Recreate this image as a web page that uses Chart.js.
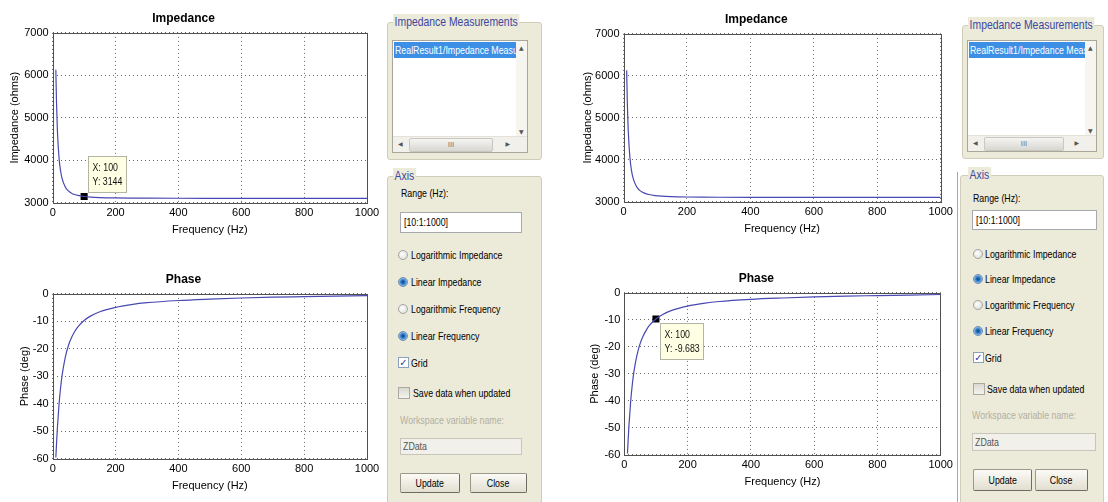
<!DOCTYPE html>
<html>
<head>
<meta charset="utf-8">
<script src="https://cdn.jsdelivr.net/npm/chart.js@4.4.1/dist/chart.umd.min.js"></script>
<style>
  body { margin: 0; width: 1108px; height: 502px; background: #fff; position: relative; overflow: hidden;
         font-family: "Liberation Sans", Arial, sans-serif; font-size: 11px; color: #000; }
  canvas { position: absolute; }
  .abs { position: absolute; box-sizing: border-box; }
  .t { display: inline-block; transform: scaleX(0.8); transform-origin: 0 50%; white-space: nowrap; }
  .grp { background: #ecead9; border: 1px solid #cfccb9; border-radius: 3px; }
  .cap { position: absolute; top: -9px; padding: 0 2px; background: #ecead9; color: #3b47a0; font-size: 13px;
         line-height: 16px; white-space: nowrap; transform: scaleX(0.8); transform-origin: 0 50%; }
  .list { background: #fff; border: 1px solid #a9a79a; overflow: hidden; }
  .sel { position: absolute; left: 1px; top: 1px; height: 16px; line-height: 16px; background: #3d8fe6; color: #fff;
         white-space: nowrap; overflow: hidden; padding-left: 1px; }
  .vs { position: absolute; right: 0; top: 0; width: 11px; bottom: 15px; background: #f6f5f0; }
  .hs { position: absolute; left: 0; right: 0; bottom: 0; height: 15px; background: #f1f0ea; border-top: 1px solid #e4e2d8; }
  .arr { position: absolute; font-size: 6px; color: #555; font-family: "DejaVu Sans", sans-serif; }
  .thumb { position: absolute; top: 1px; height: 12px; border: 1px solid #c9c8c0; border-radius: 2px;
           background: linear-gradient(#f4f4f2, #d8d7d2); font-size: 8px; color: #777; text-align: center; line-height: 11px; }
  .lbl { white-space: nowrap; line-height: 14px; transform: scaleX(0.8); transform-origin: 0 50%; }
  .inp { background: #fff; border: 1px solid #a6aaae; padding-left: 3px; white-space: nowrap; }
  .dis { background: #f1f0ea; border: 1px solid #c8c6ba; padding-left: 2px; color: #555; }
  .radio { width: 10px; height: 10px; border-radius: 50%; border: 1px solid #a4a4a0;
           background: radial-gradient(circle at 40% 40%, #ffffff, #d6d6d2); }
  .radio.on { border-color: #6f8fb0; background: radial-gradient(circle, #0d3f7c 0, #2a78c8 2px, #8fbbe6 4px, #dbe7f2 5px); }
  .chk { width: 11px; height: 11px; border: 1px solid #8aa0bb; background: #fff; font-size: 10px; line-height: 10px;
         color: #2a3aa8; text-align: center; font-family: "DejaVu Sans", sans-serif; font-weight: bold; }
  .chk.off { border-color: #aaa9a0; background: linear-gradient(#d9d8d0, #f4f3ee); }
  .btn { border: 1px solid #9a988a; border-right-color: #6e6c62; border-bottom-color: #6e6c62; border-radius: 2px;
         background: linear-gradient(#fbfaf6, #e2dfd0); text-align: center; }
  .btn .t { transform-origin: 50% 50%; }
  .gray { color: #b3b0a2; }
</style>
</head>
<body>
<canvas id="impLeft" width="420" height="241" style="left:0px;top:0px"></canvas>
<canvas id="phaseLeft" width="420" height="236" style="left:0px;top:261px"></canvas>
<canvas id="impRight" width="420" height="239" style="left:572px;top:1px"></canvas>
<canvas id="phaseRight" width="420" height="233" style="left:572px;top:260px"></canvas>
<div class="abs" style="left:957px;top:172px;width:1px;height:330px;background:#a8a8a8"></div>
<div id="panels"></div>
<script>
// Sweep values
const freqHz = [10, 12, 15, 20, 25, 30, 40, 50, 60, 70, 80, 100, 120, 150, 200, 250, 300, 400, 500, 600, 700, 800, 900, 1000];
const impedanceOhms = [6130, 5390, 4690, 4070, 3750, 3565, 3370, 3275, 3222, 3190, 3169, 3144, 3130, 3119, 3110, 3106, 3104, 3102, 3101, 3100, 3100, 3099, 3099, 3099];
const phaseDeg = [-59.6, -54.9, -48.7, -40.5, -34.3, -29.6, -23.1, -18.8, -15.9, -13.7, -12.0, -9.683, -8.1, -6.5, -4.9, -3.9, -3.2, -2.4, -1.9, -1.5, -1.2, -1.0, -0.8, -0.6];

const freqTicks = [0, 200, 400, 600, 800, 1000];
const impedanceTicks = [3000, 4000, 5000, 6000, 7000];
const phaseTicks = [-60, -50, -40, -30, -20, -10, 0];
const tipFreq = 100; // data cursor sits here

const FONT = '"Liberation Sans", Arial, sans-serif';
Chart.defaults.font.family = FONT;
Chart.defaults.color = "#000";

function makePlot(id, cfg) {
  const tipIdx = freqHz.indexOf(tipFreq);
  const datasets = [{
    data: freqHz.map((f, i) => ({ x: f, y: cfg.values[i] })),
    borderColor: "#4848b2",
    borderWidth: 1.2,
    pointRadius: 0,
    cubicInterpolationMode: "monotone"
  }];
  if (cfg.tip) {
    datasets.push({
      data: [{ x: freqHz[tipIdx], y: cfg.values[tipIdx] }],
      showLine: false,
      pointStyle: "rect",
      pointRadius: 5,
      pointBackgroundColor: "#000",
      pointBorderColor: "#000",
      pointBorderWidth: 0
    });
  }

  // full box round the axes, like matlab
  const frame = {
    id: "frame",
    beforeDatasetsDraw(chart) {
      const { ctx, chartArea: a } = chart;
      ctx.save();
      ctx.setLineDash([]);
      ctx.strokeStyle = "#505050";
      ctx.lineWidth = 1;
      ctx.strokeRect(Math.round(a.left) + 0.5, Math.round(a.top) + 0.5,
                     Math.round(a.right - a.left), Math.round(a.bottom - a.top));
      ctx.restore();
    }
  };

  // the "X: / Y:" data tip box
  const tip = {
    id: "tip",
    afterDraw(chart) {
      if (!cfg.tip) return;
      const p = chart.getDatasetMeta(1).data[0];
      const { ctx } = chart;
      const x = Math.round(p.x + cfg.tip.dx) + 0.5, y = Math.round(p.y + cfg.tip.dy) + 0.5;
      ctx.save();
      ctx.fillStyle = "#ffffe3";
      ctx.strokeStyle = "#b4b4a4";
      ctx.fillRect(x, y, cfg.tip.w, 36);
      ctx.strokeRect(x, y, cfg.tip.w, 36);
      ctx.fillStyle = "#111";
      ctx.font = "11px " + FONT;
      ctx.textBaseline = "middle";
      ctx.translate(x + 4, y);
      ctx.scale(0.8, 1);
      ctx.fillText("X: " + freqHz[tipIdx], 0, 11);
      ctx.fillText("Y: " + cfg.values[tipIdx], 0, 25);
      ctx.restore();
    }
  };

  const gridStyle = { color: "#6a6a6a", lineWidth: 1, drawTicks: false };

  new Chart(document.getElementById(id), {
    type: "line",
    data: { datasets },
    options: {
      responsive: false,
      animation: false,
      events: [],
      layout: { padding: { left: 0, right: cfg.padRight, top: 0, bottom: 0 } },
      plugins: {
        legend: { display: false },
        tooltip: { enabled: false },
        title: {
          display: true,
          text: cfg.title,
          font: { size: 12, weight: "bold" },
          padding: { top: 11, bottom: 7.5 }
        }
      },
      scales: {
        x: {
          type: "linear",
          min: freqTicks[0],
          max: freqTicks[freqTicks.length - 1],
          afterBuildTicks: s => { s.ticks = freqTicks.map(v => ({ value: v })); },
          afterFit: s => { s.height = 38.4; },
          grid: gridStyle,
          border: { display: false, dash: [1, 3] },
          ticks: { font: { size: 11 }, padding: 4, maxRotation: 0, callback: v => String(v) },
          title: { display: true, text: "Frequency (Hz)", font: { size: 11 }, padding: { top: 4, bottom: 4.4 } }
        },
        y: {
          type: "linear",
          min: cfg.ticks[0],
          max: cfg.ticks[cfg.ticks.length - 1],
          afterBuildTicks: s => { s.ticks = cfg.ticks.map(v => ({ value: v })); },
          afterFit: s => { s.width = cfg.axisW; },
          grid: gridStyle,
          border: { display: false, dash: [1, 3] },
          ticks: { font: { size: 11 }, padding: 4, callback: v => String(v) },
          title: { display: true, text: cfg.yTitle, font: { size: 11 }, padding: { top: cfg.yTitleOff - 6.6, bottom: 0 } }
        }
      }
    },
    plugins: [frame, tip]
  });
}

makePlot("impLeft", { title: "Impedance", yTitle: "Impedance (ohms)", values: impedanceOhms, ticks: impedanceTicks,
  axisW: 52.7, padRight: 53, yTitleOff: 15, tip: { dx: 3.5, dy: -40, w: 38 } });
makePlot("phaseLeft", { title: "Phase", yTitle: "Phase (deg)", values: phaseDeg, ticks: phaseTicks,
  axisW: 52.7, padRight: 53, yTitleOff: 25 });
makePlot("impRight", { title: "Impedance", yTitle: "Impedance (ohms)", values: impedanceOhms, ticks: impedanceTicks,
  axisW: 51.5, padRight: 51.3, yTitleOff: 16 });
makePlot("phaseRight", { title: "Phase", yTitle: "Phase (deg)", values: phaseDeg, ticks: phaseTicks,
  axisW: 52.3, padRight: 51.3, yTitleOff: 23, tip: { dx: 4.3, dy: 4, w: 43 } });

// ---- the control panels next to each figure ----
const panelLayouts = [
  { meas: [387, 22, 155, 138], list: [392, 40, 136, 113], axis: [387, 176, 155, 340], capX: 8, axisCapX: 8,
    range: [401, 193], input: [400, 212, 122, 21], radios: [255, 282, 309, 336], radioX: 398, labelX: 411,
    grid: 363, save: 393, ws: 420, zdata: [400, 438, 122, 17], update: [400, 473, 60, 20], close: [470, 473, 57, 20] },
  { meas: [962, 25, 142, 134], list: [967, 40, 130, 112], axis: [960, 175, 144, 340], capX: 8, axisCapX: 10,
    range: [973, 198], input: [972, 210, 125, 20], radios: [254, 279, 305, 331], radioX: 973, labelX: 985,
    grid: 358, save: 389, ws: 415, zdata: [972, 433, 124, 18], update: [973, 469, 59, 22], close: [1035, 469, 53, 22] }
];
const radioLabels = ["Logarithmic Impedance", "Linear Impedance", "Logarithmic Frequency", "Linear Frequency"];
const radioOn = [false, true, false, true];

function at(x, y, w, h) {
  return `left:${x}px;top:${y}px;` + (w != null ? `width:${w}px;height:${h}px;` : "");
}

let html = "";
panelLayouts.forEach(p => {
  const [lx, ly, lw, lh] = p.list;
  html += `<div class="abs grp" style="${at(...p.meas)}"><span class="cap" style="left:${p.capX - 3}px">Impedance Measurements</span></div>`;
  html += `<div class="abs list" style="${at(lx, ly, lw, lh)}">
      <div class="sel" style="width:${lw - 14}px"><span class="t">RealResult1/Impedance Measurements</span></div>
      <div class="vs"><span class="arr" style="left:3px;top:3px">&#9650;</span><span class="arr" style="left:3px;bottom:2px">&#9660;</span></div>
      <div class="hs"><span class="arr" style="left:5px;top:3px">&#9664;</span>
        <div class="thumb" style="left:16px;width:${Math.round(lw * 0.6)}px">III</div>
        <span class="arr" style="right:17px;top:3px">&#9654;</span></div>
    </div>`;
  html += `<div class="abs grp" style="${at(...p.axis)}"><span class="cap" style="left:${p.axisCapX - 3}px">Axis</span></div>`;
  html += `<div class="abs lbl" style="${at(p.range[0], p.range[1] - 7)}">Range (Hz):</div>`;
  const [ix, iy, iw, ih] = p.input;
  html += `<div class="abs inp" style="${at(ix, iy, iw, ih)}line-height:${ih - 2}px"><span class="t">[10:1:1000]</span></div>`;
  p.radios.forEach((y, i) => {
    html += `<div class="abs radio${radioOn[i] ? " on" : ""}" style="${at(p.radioX, y - 5)}"></div>`;
    html += `<div class="abs lbl" style="${at(p.labelX, y - 7)}">${radioLabels[i]}</div>`;
  });
  html += `<div class="abs chk" style="${at(p.radioX, p.grid - 6)}">&#10003;</div>`;
  html += `<div class="abs lbl" style="${at(p.labelX, p.grid - 7)}">Grid</div>`;
  html += `<div class="abs chk off" style="${at(p.radioX, p.save - 6, 12, 12)}"></div>`;
  html += `<div class="abs lbl" style="${at(p.labelX + 2, p.save - 7)}">Save data when updated</div>`;
  html += `<div class="abs lbl gray" style="${at(p.input[0], p.ws - 7)}">Workspace variable name:</div>`;
  const [zx, zy, zw, zh] = p.zdata;
  html += `<div class="abs dis" style="${at(zx, zy, zw, zh)}line-height:${zh - 2}px"><span class="t">ZData</span></div>`;
  const [ux, uy, uw, uh] = p.update;
  html += `<div class="abs btn" style="${at(ux, uy, uw, uh)}line-height:${uh - 2}px"><span class="t">Update</span></div>`;
  const [cx, cy, cw, ch] = p.close;
  html += `<div class="abs btn" style="${at(cx, cy, cw, ch)}line-height:${ch - 2}px"><span class="t">Close</span></div>`;
});
document.getElementById("panels").innerHTML = html;
</script>
</body>
</html>
